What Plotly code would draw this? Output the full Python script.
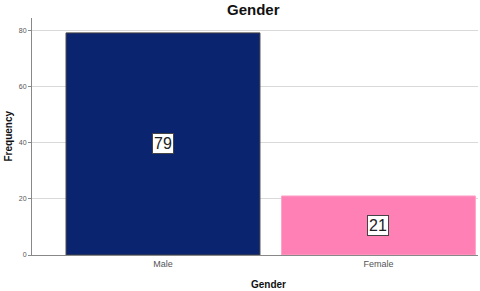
import plotly.graph_objects as go

categories = ["Male", "Female"]
frequencies = [79, 21]
colors = ["#0b2470", "#ff80b4"]
edge_colors = ["#444444", "#ffa3c9"]
y_ticks = [0, 20, 40, 60, 80]

FONT = "Liberation Sans, Arial"

fig = go.Figure()
fig.add_trace(go.Bar(
    x=list(range(len(categories))), y=frequencies, width=0.9,
    marker=dict(color=colors, line=dict(color=edge_colors, width=1)),
    hoverinfo="skip",
))
for i, v in enumerate(frequencies):
    fig.add_annotation(x=i, y=v / 2, text=str(v), showarrow=False,
                       font=dict(family=FONT, size=16, color="#222222"),
                       bgcolor="white", bordercolor="#444444", borderwidth=1, borderpad=1)

# titles as annotations
fig.add_annotation(xref="paper", yref="paper", x=0.497, y=1.0, yshift=9, yanchor="middle", xanchor="center",
                   text="<b>Gender</b>", showarrow=False, font=dict(family=FONT, size=15, color="#111111"))
fig.add_annotation(xref="paper", yref="paper", x=0.53, y=0, yshift=-29, yanchor="middle", xanchor="center",
                   text="<b>Gender</b>", showarrow=False, font=dict(family=FONT, size=10, color="#111111"))
fig.add_annotation(xref="paper", yref="paper", x=0, xshift=-24, y=0.5, xanchor="center", yanchor="middle",
                   text="<b>Frequency</b>", textangle=-90, showarrow=False,
                   font=dict(family=FONT, size=10, color="#111111"))

fig.update_layout(
    width=480, height=291,
    margin=dict(l=32, r=2, t=18, b=36, autoexpand=False),
    paper_bgcolor="white", plot_bgcolor="white",
    showlegend=False,
    xaxis=dict(range=[-0.608, 1.462], tickvals=list(range(len(categories))), ticktext=categories,
               showgrid=False, showline=True, linecolor="#888888", linewidth=1, automargin=False,
               ticks="", tickfont=dict(family=FONT, size=9, color="#555555"),
               zeroline=False),
    yaxis=dict(range=[0, 84.3], tickvals=y_ticks, showgrid=True, gridcolor="#d9d9d9",
               showline=True, linecolor="#888888", linewidth=1, ticks="outside", ticklen=3,
               tickcolor="#888888", automargin=False,
               tickfont=dict(family=FONT, size=7, color="#555555"),
               zeroline=False),
)
fig.write_html("out.html", config={"displayModeBar": False},
               post_script="document.body.style.margin='0';document.body.style.overflow='hidden';")
